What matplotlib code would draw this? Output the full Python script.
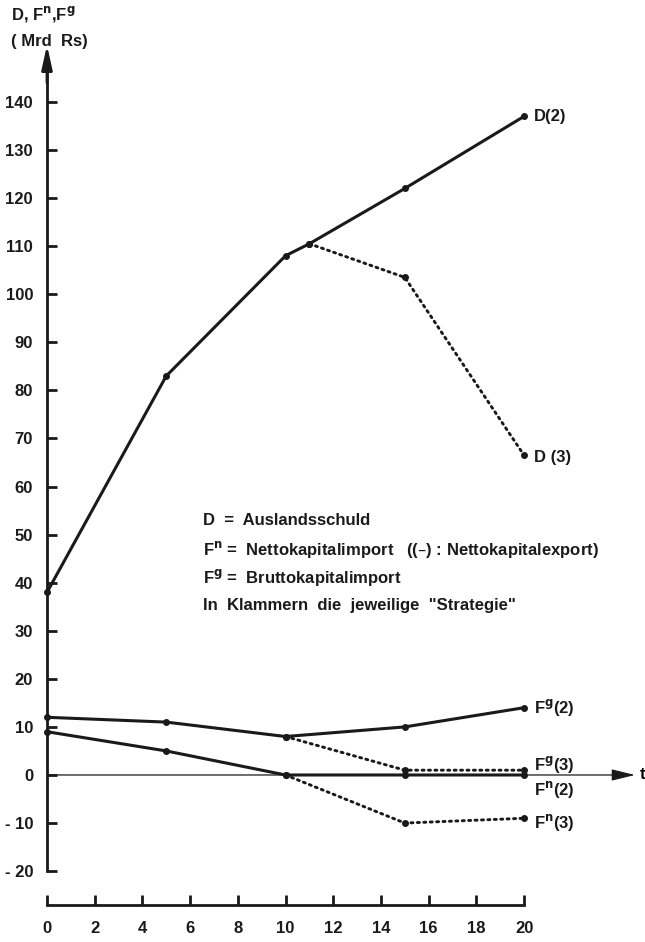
import matplotlib.pyplot as plt
import numpy as np

plt.rcParams['font.family'] = ['Liberation Sans', 'DejaVu Sans']
plt.rcParams['font.weight'] = 'bold'
plt.rcParams['mathtext.default'] = 'bf'

# Auslandsschuld D, strategy 2 and 3
t_d2 = [0, 5, 10, 11, 15, 20]
d2 = [38, 83, 108, 110.5, 122, 137]
t_d3 = [11, 15, 20]
d3 = [110.5, 103.5, 66.5]

# Bruttokapitalimport F^g
t_fg2 = [0, 5, 10, 15, 20]
fg2 = [12, 11, 8, 10, 14]
t_fg3 = [10, 15, 20]
fg3 = [8, 1, 1]

# Nettokapitalimport F^n
t_fn2 = [0, 5, 10, 15, 20]
fn2 = [9, 5, 0, 0, 0]
t_fn3 = [10, 15, 20]
fn3 = [0, -10, -9]

y_ticks = list(range(-20, 141, 10))
y_labels = ['- 20', '- 10'] + [str(v) for v in range(0, 141, 10)]
x_ticks = list(range(0, 21, 2))

fig = plt.figure(figsize=(6.45, 9.42), dpi=100)
ax = fig.add_axes([0, 0, 1, 1])
ax.set_xlim(-1.97, 25.07)
ax.set_ylim(-34.74, 161.2)
ax.patch.set_alpha(0)

ink = '#1a1a1a'
solid = dict(color=ink, lw=2.2, marker='o', ms=4, solid_capstyle='round')
dotted = dict(color=ink, lw=2.1, marker='o', ms=4, linestyle=(0, (0.7, 1.5)),
              dash_capstyle='round')

ax.plot(t_d2, d2, **solid)
ax.plot(t_d3, d3, **dotted)
ax.plot(t_fg2, fg2, **solid)
ax.plot(t_fg3, fg3, **dotted)
ax.plot(t_fn2, fn2, **solid)
ax.plot(t_fn3, fn3, **dotted)

# zero line with arrow
ax.annotate('', xy=(24.65, 0), xytext=(0, 0),
            arrowprops=dict(arrowstyle='-|>,head_length=0.9,head_width=0.22',
                            color=ink, lw=0.9, mutation_scale=16,
                            shrinkA=0, shrinkB=0))
ax.text(25.07, 0, 't', fontsize=12, va='center', ha='right')

# axes
for s in ['top', 'right']:
    ax.spines[s].set_visible(False)
ax.spines['left'].set_position(('data', 0))
ax.spines['left'].set_bounds(-20, 146)
ax.spines['bottom'].set_position(('data', -27))
ax.spines['bottom'].set_bounds(0, 20)
for s in ['left', 'bottom']:
    ax.spines[s].set_linewidth(2.0)
    ax.spines[s].set_color(ink)
ax.annotate('', xy=(0, 151.8), xytext=(0, 144),
            arrowprops=dict(arrowstyle='-|>,head_length=0.9,head_width=0.2',
                            color=ink, lw=2.0, mutation_scale=16,
                            shrinkA=0, shrinkB=0))

ax.set_yticks(y_ticks)
ax.set_yticklabels(y_labels)
ax.set_xticks(x_ticks)
ax.tick_params(axis='y', direction='in', length=7, width=2.0, pad=10, labelsize=12,
               color=ink, labelcolor=ink)
ax.tick_params(axis='x', direction='in', length=7, width=2.0, pad=12, labelsize=12,
               color=ink, labelcolor=ink)

# axis title
ax.text(-1.5, 158.3, 'D, F$^{n}$,F$^{g}$', fontsize=12, va='center', color=ink)
ax.text(-1.5, 152.6, '( Mrd  Rs)', fontsize=12, va='center', color=ink)

# series labels
lab = dict(fontsize=12, va='center', ha='left', color=ink)
ax.text(20.4, 136.9, 'D(2)', **lab)
ax.text(20.4, 66.0, 'D (3)', **lab)
ax.text(20.4, 14.1, 'F$^{g}$(2)', **lab)
ax.text(20.4, 2.1, 'F$^{g}$(3)', **lab)
ax.text(20.4, -3.1, 'F$^{n}$(2)', **lab)
ax.text(20.4, -9.8, 'F$^{n}$(3)', **lab)

# key
key = dict(fontsize=12, va='center', ha='left', color=ink)
ax.text(6.54, 53.0, 'D  =  Auslandsschuld', **key)
ax.text(6.54, 47.0, 'F$^{n}$ =  Nettokapitalimport   ((\u2013) : Nettokapitalexport)', **key)
ax.text(6.54, 41.1, 'F$^{g}$ =  Bruttokapitalimport', **key)
ax.text(6.54, 35.2, 'In  Klammern  die  jeweilige  "Strategie"', **key)

fig.savefig('out.png', dpi=100)
